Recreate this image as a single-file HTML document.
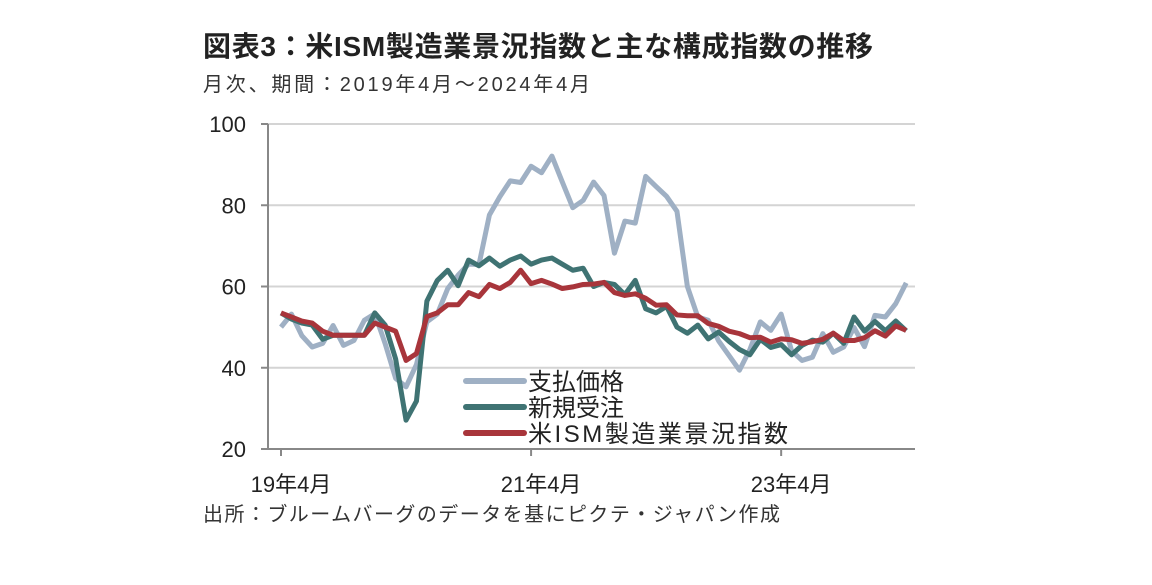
<!DOCTYPE html>
<html><head><meta charset="utf-8"><style>
body{margin:0;background:#fff;width:1152px;height:580px;overflow:hidden;font-family:"Liberation Sans","Noto Sans CJK JP",sans-serif}
svg text{font-family:"Liberation Sans","Noto Sans CJK JP",sans-serif}
</style></head><body>
<svg id="c" width="1152" height="580">
<text x="203" y="56" font-size="28" font-weight="bold" fill="#222" textLength="670">図表3：米ISM製造業景況指数と主な構成指数の推移</text>
<text x="203" y="91" font-size="20" fill="#333" textLength="387">月次、期間：2019年4月～2024年4月</text>
<text x="203" y="521" font-size="20" fill="#333" textLength="577">出所：ブルームバーグのデータを基にピクテ・ジャパン作成</text>
<g id="grid"></g><g id="lines"></g>
<g>
<line x1="466" y1="381" x2="524" y2="381" stroke="#9fb0c4" stroke-width="6" stroke-linecap="round"/>
<text x="528" y="390" font-size="24" fill="#222">支払価格</text>
<line x1="466" y1="407" x2="524" y2="407" stroke="#3f7373" stroke-width="6" stroke-linecap="round"/>
<text x="528" y="416" font-size="24" fill="#222">新規受注</text>
<line x1="466" y1="433" x2="524" y2="433" stroke="#a8353b" stroke-width="6" stroke-linecap="round"/>
<text x="528" y="442" font-size="24" fill="#222" textLength="260">米ISM製造業景況指数</text>
</g>
</svg>
<script>
const yTicks=[20,40,60,80,100];
const xTickLabels=["19年4月","21年4月","23年4月"];
const xTickIdx=[0,24,48];
const prices=[50.0,53.2,47.9,45.1,46.0,50.4,45.5,46.7,51.7,53.3,45.9,37.4,35.3,40.8,51.3,53.2,59.5,62.8,65.5,65.4,77.6,82.1,86.0,85.6,89.6,88.0,92.1,85.7,79.4,81.2,85.7,82.4,68.2,76.1,75.6,87.1,84.6,82.2,78.5,60.0,52.5,51.7,46.6,43.0,39.4,44.5,51.3,49.2,53.2,44.2,41.8,42.6,48.4,43.8,45.1,49.9,45.2,52.9,52.5,55.8,60.9];
const newOrders=[53.5,52.0,51.0,50.5,47.0,48.0,48.0,48.0,48.0,53.5,50.5,42.2,27.1,31.8,56.4,61.5,64.0,60.2,66.5,65.1,67.0,65.0,66.5,67.5,65.5,66.5,67.0,65.5,64.0,64.5,60.0,61.0,60.5,58.0,61.5,54.5,53.5,55.1,50.0,48.5,50.5,47.1,48.8,46.5,44.5,43.2,47.0,45.0,45.7,43.2,45.5,46.8,46.3,48.5,46.0,52.5,49.0,51.4,49.1,51.5,49.1];
const ism=[53.5,52.5,51.5,51.0,49.0,48.0,48.0,48.0,48.0,51.0,50.0,49.0,41.8,43.5,52.6,53.5,55.5,55.5,58.5,57.5,60.5,59.5,61.0,64.0,60.7,61.5,60.6,59.5,59.9,60.5,60.6,61.0,58.5,57.8,58.2,57.1,55.4,55.5,53.0,52.8,52.8,50.9,50.2,49.0,48.4,47.4,47.5,46.3,47.1,46.9,46.0,46.4,47.0,48.5,46.7,46.7,47.4,49.1,47.8,50.3,49.2];
const X0=281,DX=10.42,Y0=449,YS=325/80;
const xs=i=>X0+i*DX, ys=v=>Y0-(v-20)*YS;
const NS="http://www.w3.org/2000/svg";
const g=document.getElementById('grid'),L=document.getElementById('lines');
function mk(t,a,p){const e=document.createElementNS(NS,t);for(const k in a)e.setAttribute(k,a[k]);p.appendChild(e);return e;}
yTicks.forEach(v=>{
 if(v>20){const gl=mk('line',{x1:268,x2:915,y1:ys(v),y2:ys(v),stroke:'#d4d4d4','stroke-width':2},g);
 
 }
 mk('line',{x1:261,x2:268,y1:ys(v),y2:ys(v),stroke:'#888','stroke-width':2},g);
 const t=mk('text',{x:246,y:ys(v)+8,'font-size':22,'text-anchor':'end',fill:'#222'},g);t.textContent=v;
 
 
});
const ax=mk('line',{x1:268,x2:268,y1:ys(100),y2:ys(20),stroke:'#888','stroke-width':2},g);


const bx=mk('line',{x1:268,x2:915,y1:ys(20),y2:ys(20),stroke:'#888','stroke-width':2},g);


xTickIdx.forEach((i,k)=>{
 mk('line',{x1:xs(i),x2:xs(i),y1:449,y2:456,stroke:'#888','stroke-width':2},g);
 const t=mk('text',{x:xs(i)+10,y:492,'font-size':22,'text-anchor':'middle',fill:'#222'},g);t.textContent=xTickLabels[k];
 
 
});
function line(d,c,n){const p=mk('polyline',{points:d.map((v,i)=>xs(i)+','+ys(v)).join(' '),fill:'none',stroke:c,'stroke-width':5,'stroke-linejoin':'round'},L);
 
 }
line(prices,'#9fb0c4','prices-paid-line');
line(newOrders,'#3f7373','new-orders-line');
line(ism,'#a8353b','ism-pmi-line');
</script>
</body></html>
